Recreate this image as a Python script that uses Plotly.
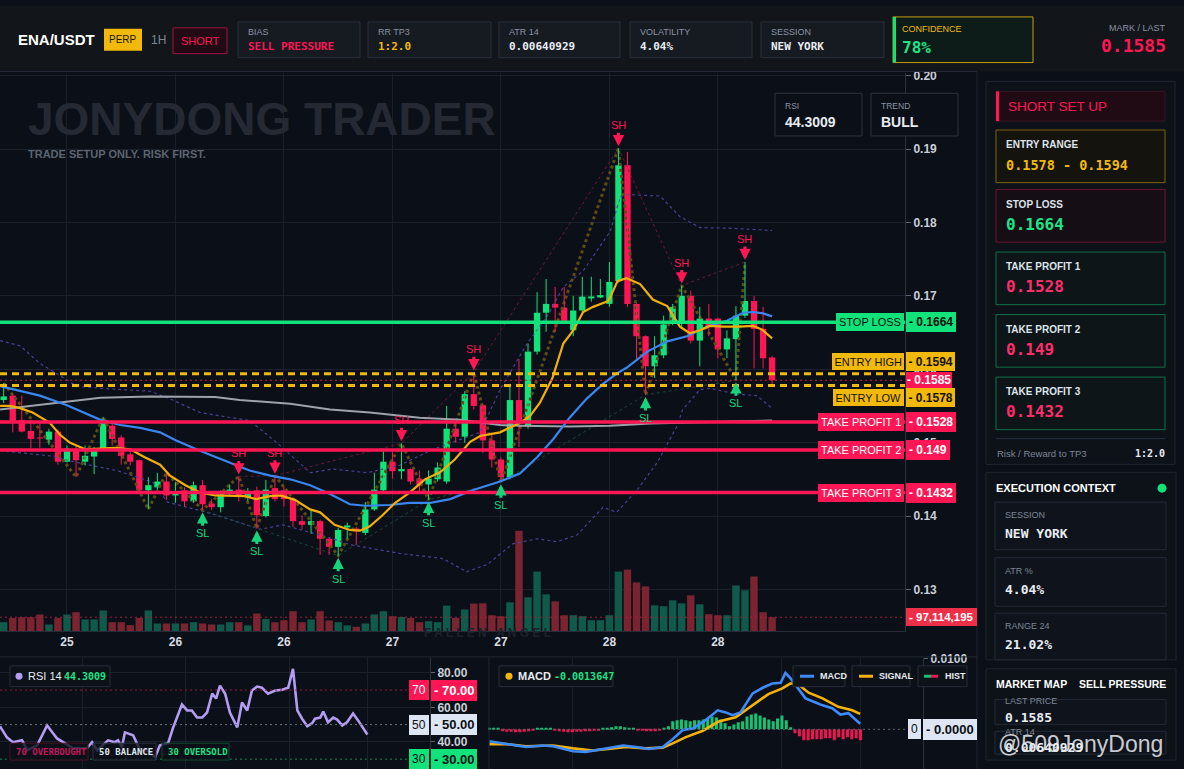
import plotly.graph_objects as go

W, H = 1184, 769

# ---- ENA/USDT 1H candles (index 0 = first visible bar) ----
opens = [0.1558, 0.1564, 0.1531, 0.1516, 0.1507, 0.1504, 0.1515, 0.1474, 0.1491, 0.1474,
         0.1481, 0.1491, 0.1523, 0.1507, 0.1484, 0.1476, 0.1435, 0.1439, 0.1447, 0.1428,
         0.1435, 0.1420, 0.1442, 0.1417, 0.1412, 0.1430, 0.1436, 0.1426, 0.1435, 0.1400,
         0.1438, 0.1435, 0.1423, 0.1393, 0.1388, 0.1393, 0.1369, 0.1358, 0.1385, 0.1383,
         0.1377, 0.1409, 0.1435, 0.1474, 0.1461, 0.1464, 0.1451, 0.1443, 0.1450, 0.1447,
         0.1519, 0.1508, 0.1566, 0.1551, 0.1503, 0.1477, 0.1453, 0.1558, 0.1523, 0.1624,
         0.1677, 0.1689, 0.1684, 0.1653, 0.1680, 0.1697, 0.1699, 0.1689, 0.1720, 0.1878,
         0.1689, 0.1645, 0.1604, 0.1619, 0.1666, 0.1665, 0.1700, 0.1639, 0.1669, 0.1669,
         0.1627, 0.1641, 0.1673, 0.1693, 0.1655, 0.1616]
highs = [0.1581, 0.1566, 0.1564, 0.1531, 0.1527, 0.1519, 0.1518, 0.1496, 0.1496, 0.1496,
         0.1494, 0.1535, 0.1528, 0.1510, 0.1491, 0.1477, 0.1453, 0.1459, 0.1459, 0.1446,
         0.1439, 0.1447, 0.1449, 0.1423, 0.1435, 0.1443, 0.1454, 0.1438, 0.1440, 0.1449,
         0.1455, 0.1440, 0.1426, 0.1401, 0.1408, 0.1395, 0.1370, 0.1384, 0.1391, 0.1385,
         0.1419, 0.1459, 0.1488, 0.1488, 0.1499, 0.1465, 0.1462, 0.1462, 0.1473, 0.1550,
         0.1527, 0.1570, 0.1596, 0.1553, 0.1514, 0.1480, 0.1577, 0.1614, 0.1635, 0.1705,
         0.1723, 0.1712, 0.1712, 0.1700, 0.1726, 0.1726, 0.1723, 0.1746, 0.1901, 0.1896,
         0.1690, 0.1646, 0.1645, 0.1673, 0.1689, 0.1714, 0.1707, 0.1685, 0.1689, 0.1670,
         0.1653, 0.1686, 0.1746, 0.1700, 0.1685, 0.1618]
lows = [0.1554, 0.1514, 0.1514, 0.1492, 0.1493, 0.1497, 0.1470, 0.1473, 0.1453, 0.1469,
        0.1457, 0.1489, 0.1496, 0.1470, 0.1469, 0.1433, 0.1409, 0.1436, 0.1422, 0.1418,
        0.1413, 0.1418, 0.1408, 0.1408, 0.1405, 0.1427, 0.1420, 0.1420, 0.1383, 0.1398,
        0.1420, 0.1413, 0.1385, 0.1382, 0.1376, 0.1347, 0.1347, 0.1346, 0.1369, 0.1361,
        0.1374, 0.1407, 0.1432, 0.1451, 0.1450, 0.1443, 0.1432, 0.1422, 0.1447, 0.1444,
        0.1500, 0.1500, 0.1545, 0.1486, 0.1466, 0.1446, 0.1450, 0.1494, 0.1519, 0.1620,
        0.1651, 0.1651, 0.1664, 0.1645, 0.1675, 0.1692, 0.1697, 0.1685, 0.1718, 0.1685,
        0.1612, 0.1565, 0.1588, 0.1615, 0.1660, 0.1655, 0.1635, 0.1604, 0.1645, 0.1615,
        0.1615, 0.1585, 0.1670, 0.1601, 0.1601, 0.1577]
closes = [0.1563, 0.1528, 0.1515, 0.1505, 0.1506, 0.1515, 0.1474, 0.1492, 0.1476, 0.1482,
          0.1491, 0.1528, 0.1505, 0.1482, 0.1474, 0.1435, 0.1442, 0.1447, 0.1428, 0.1432,
          0.1420, 0.1442, 0.1416, 0.1412, 0.1430, 0.1436, 0.1426, 0.1430, 0.1401, 0.1436,
          0.1423, 0.1423, 0.1393, 0.1388, 0.1393, 0.1369, 0.1358, 0.1381, 0.1387, 0.1379,
          0.1409, 0.1436, 0.1474, 0.1461, 0.1464, 0.1447, 0.1442, 0.1451, 0.1466, 0.1519,
          0.1508, 0.1566, 0.1550, 0.1503, 0.1477, 0.1453, 0.1558, 0.1527, 0.1624, 0.1677,
          0.1689, 0.1684, 0.1666, 0.1680, 0.1699, 0.1699, 0.1701, 0.1719, 0.1878, 0.1689,
          0.1645, 0.1604, 0.1619, 0.1661, 0.1685, 0.1700, 0.1639, 0.1669, 0.1658, 0.1627,
          0.1642, 0.1673, 0.1693, 0.1655, 0.1615, 0.1585]
# volume in millions
volume_m = [62, 92, 97, 97, 116, 46, 92, 116, 132, 81,
            81, 144, 62, 62, 42, 92, 144, 53, 53, 53,
            53, 62, 53, 46, 46, 62, 62, 40, 123, 85,
            62, 76, 139, 62, 81, 139, 74, 62, 40, 30,
            53, 116, 139, 104, 99, 92, 62, 69, 62, 178,
            92, 151, 192, 194, 111, 104, 201, 701, 236, 416,
            257, 208, 111, 111, 104, 76, 76, 111, 416, 430,
            340, 312, 180, 174, 215, 194, 250, 187, 118, 111,
            111, 319, 285, 382, 132, 97.114195]

day_tick_idx = [7, 19, 31, 43, 55, 67, 79]
day_tick_text = ["25", "26", "26", "27", "27", "28", "28"]
price_ticks = [0.13, 0.14, 0.15, 0.16, 0.17, 0.18, 0.19, 0.20]
sub_grid_idx = [19, 43, 67, 85]

# moving averages (bar index, price)
ema_fast_x = [-0.4, 0.7, 1.8, 3.2, 5.1, 6.2, 7.3, 9.0, 10.7, 12.3, 14.0, 15.6, 17.3, 18.4, 20.1,
              21.7, 23.4, 25.0, 26.7, 27.9, 29.5, 30.6, 32.2, 33.9, 35.0, 36.6, 38.3, 39.4, 40.5,
              41.9, 43.3, 44.9, 46.6, 48.3, 49.9, 51.6, 52.7, 54.9, 57.1, 58.2, 59.3, 60.7, 61.9,
              63.0, 64.1, 65.2, 66.9, 67.9, 68.9, 70.4, 71.8, 73.4, 74.8, 75.9, 77.0, 78.1, 79.6,
              81.4, 82.9, 83.9, 85.0]
ema_fast_y = [0.1550, 0.1550, 0.1547, 0.1541, 0.1527, 0.1511, 0.1500, 0.1491, 0.1492, 0.1493,
              0.1491, 0.1480, 0.1470, 0.1455, 0.1442, 0.1432, 0.1428, 0.1428, 0.1427, 0.1423,
              0.1427, 0.1428, 0.1422, 0.1409, 0.1405, 0.1388, 0.1381, 0.1380, 0.1386, 0.1401,
              0.1418, 0.1432, 0.1450, 0.1460, 0.1477, 0.1501, 0.1509, 0.1514, 0.1527, 0.1536,
              0.1554, 0.1588, 0.1635, 0.1653, 0.1678, 0.1685, 0.1693, 0.1720, 0.1724, 0.1716,
              0.1695, 0.1686, 0.1658, 0.1649, 0.1653, 0.1659, 0.1658, 0.1658, 0.1659, 0.1654,
              0.1642]
ema_mid_x = [-0.4, 1.8, 4.0, 7.0, 10.7, 12.9, 15.1, 17.3, 18.9, 21.7, 25.0, 27.2, 29.5, 31.7,
             33.9, 36.1, 38.3, 40.0, 42.7, 44.9, 47.2, 49.4, 51.6, 54.9, 57.1, 59.0, 60.8, 62.6,
             64.5, 66.3, 67.8, 68.9, 71.2, 73.4, 75.6, 77.8, 80.0, 81.8, 82.9, 84.0, 85.0]
ema_mid_y = [0.1577, 0.1570, 0.1564, 0.1551, 0.1531, 0.1524, 0.1520, 0.1514, 0.1504, 0.1489,
             0.1473, 0.1462, 0.1455, 0.1450, 0.1442, 0.1430, 0.1416, 0.1414, 0.1415, 0.1418,
             0.1418, 0.1423, 0.1434, 0.1447, 0.1458, 0.1480, 0.1505, 0.1534, 0.1560, 0.1580,
             0.1594, 0.1602, 0.1624, 0.1638, 0.1645, 0.1658, 0.1666, 0.1677, 0.1678, 0.1676,
             0.1672]
ema_slow_x = [-0.4, 3.2, 6.2, 10.7, 16.2, 23.4, 26.1, 31.7, 36.1, 40.5, 46.0, 50.5, 54.9, 57.1,
              62.6, 67.1, 71.5, 77.0, 85.0]
ema_slow_y = [0.1545, 0.1550, 0.1555, 0.1561, 0.1563, 0.1562, 0.1558, 0.1553, 0.1545, 0.1541,
              0.1534, 0.1531, 0.1524, 0.1523, 0.1522, 0.1523, 0.1526, 0.1528, 0.1530]
bb_up_x = [-0.4, 1.8, 4.0, 8.1, 10.7, 16.2, 18.7, 21.7, 27.2, 30.2, 33.9, 36.4, 40.2, 43.8, 47.5,
           52.7, 54.9, 57.9, 60.1, 61.9, 64.1, 67.1, 68.2, 68.9, 72.6, 74.8, 77.0, 80.7, 85.0]
bb_up_y = [0.1639, 0.1632, 0.1608, 0.1577, 0.1574, 0.1570, 0.1558, 0.1541, 0.1530, 0.1500,
           0.1459, 0.1464, 0.1459, 0.1469, 0.1491, 0.1514, 0.1572, 0.1635, 0.1672, 0.1712,
           0.1734, 0.1788, 0.1835, 0.1838, 0.1836, 0.1808, 0.1793, 0.1792, 0.1789]
bb_lo_x = [-0.4, 5.1, 8.1, 12.5, 16.5, 18.1, 22.5, 28.4, 30.9, 36.4, 38.3, 43.8, 48.6, 51.2, 53.5,
           56.3, 59.0, 61.2, 63.4, 66.3, 67.8, 70.1, 72.3, 74.5, 75.1, 77.0, 78.1, 81.1, 83.3, 85.0]
bb_lo_y = [0.1489, 0.1482, 0.1473, 0.1462, 0.1446, 0.1419, 0.1405, 0.1382, 0.1388, 0.1369,
           0.1361, 0.1349, 0.1342, 0.1324, 0.1334, 0.1362, 0.1369, 0.1365, 0.1374, 0.1412,
           0.1405, 0.1436, 0.1473, 0.1523, 0.1545, 0.1572, 0.1574, 0.1566, 0.1564, 0.1547]

# swing structure (bar indexes)
zigzag_idx = [0, 8, 11, 16, 18, 22, 26, 28, 30, 37, 44, 47, 52, 55, 68, 71, 75, 81, 82]
swing_high_idx = [26, 30, 44, 52, 68, 75, 82]
swing_low_idx = [22, 28, 37, 47, 55, 71, 81]

# trade plan
stop_loss = 0.1664
entry_high = 0.1594
entry_low = 0.1578
last_price = 0.1585
take_profits = [0.1528, 0.149, 0.1432]

# RSI 14 (bar index, value)
rsi_x = [0, 1.6, 3.0, 5.1, 6.3, 8.6, 10.9, 13.2, 14.6, 16.9, 20.1, 21.3, 22.5, 25.0, 26.6, 27.3,
         28.2, 28.9, 30.8, 32.4, 34.0, 35.9, 37.0, 38.9, 40.0, 42.1, 43.3, 44.4, 45.6, 46.8, 47.9,
         49.1, 50.0, 50.9, 52.1, 53.2, 54.9, 56.0, 57.2, 58.3, 59.5, 60.6, 62.0, 63.7, 65.3, 66.7,
         67.8, 68.8, 69.9, 71.1, 72.2, 72.9, 74.1, 74.8, 75.9, 77.1, 78.0, 79.2, 80.3, 81.7, 82.9,
         85.0]
rsi_y = [49.0, 42.6, 39.8, 40.9, 35.2, 38.0, 49.5, 42.0, 39.8, 36.3, 36.3, 39.8, 35.2, 40.9, 39.8,
         40.9, 36.9, 45.5, 43.8, 35.2, 35.2, 31.2, 38.0, 39.2, 47.8, 61.6, 58.2, 58.2, 54.1, 54.1,
         57.0, 67.9, 65.1, 72.5, 67.9, 57.0, 48.4, 62.8, 58.2, 69.7, 72.0, 71.4, 67.9, 69.7, 70.2,
         71.4, 82.3, 58.2, 53.4, 49.0, 50.7, 53.4, 54.1, 57.6, 51.3, 54.1, 52.9, 49.5, 51.3, 56.4,
         52.3, 44.3]

# MACD (bar index, value)
macd_x = [0, 3.9, 8.4, 12.3, 14.6, 19.2, 22.1, 26.0, 30.6, 33.6, 36.5, 39.7, 41.6, 44.3, 46.6,
          49.5, 52.3, 54.1, 55.7, 57.5, 60.3, 62.6, 64.8, 66.7, 67.8, 68.9, 70.5, 72.4, 74.7, 76.3,
          78.5, 80.4, 82.2, 84.9]
macd_y = [-0.0017, -0.0021, -0.0025, -0.0023, -0.0024, -0.0031, -0.0032, -0.0028, -0.0023, -0.0025,
          -0.0028, -0.0025, -0.0016, -0.0001, 0.0001, 0.0013, 0.0027, 0.0024, 0.0020, 0.0024,
          0.0051, 0.0059, 0.0065, 0.0066, 0.0080, 0.0073, 0.0059, 0.0044, 0.0038, 0.0034,
          0.0030, 0.0021, 0.0023, 0.0008]
signal_x = [0, 3.9, 8.4, 14.6, 19.2, 23.7, 28.3, 31.3, 35.8, 39.7, 42.0, 45.0, 48.9, 52.5, 56.4,
            60.3, 63.9, 67.1, 68.9, 70.5, 73.1, 76.3, 79.9, 83.1, 84.9]
signal_y = [-0.0021, -0.0021, -0.0024, -0.0023, -0.0027, -0.0030, -0.0027, -0.0025, -0.0027, -0.0026,
            -0.0020, -0.0011, -0.0002, 0.0011, 0.0017, 0.0034, 0.0050, 0.0058, 0.0065, 0.0065,
            0.0052, 0.0044, 0.0032, 0.0027, 0.0022]
macd_hist = [0.00021, 0.00014, 0.00014, -0.00028, -0.00035, -0.00035, -0.00042, -0.00042, -0.00035, -0.00028,
             -0.00021, 0.00014, 0.00021, 0.00014, 0.00007, -0.00014, -0.00028, -0.00035, -0.00042, -0.00042,
             -0.00035, -0.00035, -0.00028, -0.00028, -0.00021, -0.00014, 0.00014, 0.00021, 0.00028, 0.00042,
             0.00042, 0.00028, 0.00021, 0.00014, -0.00014, -0.00021, -0.00028, -0.00028, -0.00028, -0.00021,
             0.00014, 0.00042, 0.00113, 0.00127, 0.00141, 0.00127, 0.00113, 0.00127, 0.00127, 0.00141,
             0.00155, 0.00183, 0.00169, 0.00141, 0.00085, 0.00042, 0.00070, 0.00099, 0.00113, 0.00183,
             0.00211, 0.00225, 0.00197, 0.00169, 0.00141, 0.00113, 0.00155, 0.00197, 0.00127, 0.00028,
             -0.00056, -0.00099, -0.00155, -0.00155, -0.00141, -0.00141, -0.00141, -0.00127, -0.00127, -0.00155,
             -0.00113, -0.00141, -0.00113, -0.00141, -0.00127, -0.00155]

# header / panel readouts
bias = "SELL PRESSURE"
rr_tp3 = "1:2.0"
atr14 = "0.00640929"
volatility = "4.04%"
session = "NEW YORK"
confidence = "78%"
rsi_last = "44.3009"
macd_last = "-0.0013647"
range24 = "21.02%"
trend = "BULL"

BG = "#0b0f17"
GRID = "#1b212c"
GREEN = "#12e27a"
RED = "#ff1654"
YELLOW = "#f0b90b"
TXT = "#c9ced8"
DIM = "#8a92a2"
WHITE = "#e8ecf2"
SANS = "Liberation Sans, Arial, sans-serif"
MONO = "DejaVu Sans Mono, monospace"

n = len(closes)
idx = list(range(n))
up = [c >= o for o, c in zip(opens, closes)]

fig = go.Figure()


def P(x):
    return x / W


def Q(y):
    return 1 - y / H


def box(x0, y0, x1, y1, fill, edge=None, lw=1):
    fig.add_shape(type="rect", xref="paper", yref="paper", x0=P(x0), x1=P(x1), y0=Q(y1), y1=Q(y0),
                  fillcolor=fill, line=dict(color=edge or fill, width=lw if edge else 0))


def seg(x0, y0, x1, y1, color, lw=1, dash=None):
    fig.add_shape(type="line", xref="paper", yref="paper", x0=P(x0), x1=P(x1), y0=Q(y0), y1=Q(y1),
                  line=dict(color=color, width=lw, dash=dash))


def dot(x, y, r, color):
    fig.add_shape(type="circle", xref="paper", yref="paper", x0=P(x - r), x1=P(x + r),
                  y0=Q(y + r), y1=Q(y - r), fillcolor=color, line=dict(width=0))


def label(x, y, s, size, color, family=SANS, anchor="left", bold=False):
    fig.add_annotation(xref="paper", yref="paper", x=P(x), y=Q(y), text=s, showarrow=False,
                       xanchor=anchor, yanchor="middle", borderpad=0,
                       font=dict(size=size, color=color, family=family,
                                 weight="bold" if bold else "normal"))


def tag(yref, yval, split, left, right, bg, fg, size=11, yshift=0, pad=3):
    if left:
        fig.add_annotation(xref="paper", yref=yref, x=P(split - 1.5), y=yval, text=left,
                           showarrow=False, xanchor="right", yanchor="middle", yshift=yshift,
                           bgcolor=bg, borderpad=pad, borderwidth=0,
                           font=dict(size=size, color=fg, family=SANS))
    fig.add_annotation(xref="paper", yref=yref, x=P(split + 0.5), y=yval, text="- " + right,
                       showarrow=False, xanchor="left", yanchor="middle", yshift=yshift,
                       bgcolor=bg, borderpad=pad, borderwidth=0,
                       font=dict(size=size + 1, color=fg, family=SANS, weight="bold"))


# ---------------- main price pane ----------------
fig.add_trace(go.Bar(x=idx, y=volume_m, width=0.82, xaxis="x", yaxis="y",
                     marker=dict(color=["#0f5a4b" if u else "#7b2431" for u in up], line=dict(width=0))))

for bx, by in ((bb_up_x, bb_up_y), (bb_lo_x, bb_lo_y)):
    fig.add_trace(go.Scatter(x=bx, y=by, mode="lines", xaxis="x", yaxis="y2",
                             line=dict(color="#4c3f96", width=1.2, dash="dot")))

zz_price = [highs[i] if k % 2 == 0 else lows[i] for k, i in enumerate(zigzag_idx)]
fig.add_trace(go.Scatter(x=zigzag_idx, y=zz_price, mode="lines", xaxis="x", yaxis="y2",
                         line=dict(color="#5e4c17", width=3, dash="dot")))
fig.add_trace(go.Scatter(x=swing_high_idx, y=[highs[i] for i in swing_high_idx], mode="lines",
                         xaxis="x", yaxis="y2", line=dict(color="#6e1a3a", width=1, dash="dot")))
fig.add_trace(go.Scatter(x=swing_low_idx, y=[lows[i] for i in swing_low_idx], mode="lines",
                         xaxis="x", yaxis="y2", line=dict(color="#1c4a36", width=1, dash="dot")))

# candles: wicks then bodies
for want, col in ((True, GREEN), (False, RED)):
    wx, wy = [], []
    for i in idx:
        if up[i] == want:
            wx += [i, i, None]
            wy += [lows[i], highs[i], None]
    fig.add_trace(go.Scatter(x=wx, y=wy, mode="lines", xaxis="x", yaxis="y2",
                             line=dict(color=col, width=1)))
fig.add_trace(go.Bar(x=idx, base=[min(o, c) for o, c in zip(opens, closes)],
                     y=[max(abs(c - o), 0.00008) for o, c in zip(opens, closes)],
                     width=0.7, xaxis="x", yaxis="y2",
                     marker=dict(color=[GREEN if u else RED for u in up], line=dict(width=0))))

fig.add_trace(go.Scatter(x=ema_slow_x, y=ema_slow_y, mode="lines", xaxis="x", yaxis="y2",
                         line=dict(color="#9ea3ab", width=2)))
fig.add_trace(go.Scatter(x=ema_mid_x, y=ema_mid_y, mode="lines", xaxis="x", yaxis="y2",
                         line=dict(color="#3a86f0", width=2.2)))
fig.add_trace(go.Scatter(x=ema_fast_x, y=ema_fast_y, mode="lines", xaxis="x", yaxis="y2",
                         line=dict(color="#f2ae0b", width=2.2)))

# level lines
fig.add_shape(type="line", xref="x domain", yref="y2", x0=0, x1=1, y0=stop_loss, y1=stop_loss,
              line=dict(color=GREEN, width=3.5))
for lv in take_profits:
    fig.add_shape(type="line", xref="x domain", yref="y2", x0=0, x1=1, y0=lv, y1=lv,
                  line=dict(color=RED, width=3.5))
for lv in (entry_high, entry_low):
    fig.add_shape(type="line", xref="x domain", yref="y2", x0=0, x1=1, y0=lv, y1=lv,
                  line=dict(color=YELLOW, width=3, dash="7px,5px"))
fig.add_shape(type="line", xref="x domain", yref="y2", x0=0, x1=1, y0=last_price, y1=last_price,
              line=dict(color="#d0184c", width=1, dash="2px,3px"))
fig.add_shape(type="line", xref="x domain", yref="y", x0=0, x1=1, y0=volume_m[-1], y1=volume_m[-1],
              line=dict(color="#a02338", width=1, dash="2px,3px"))

# swing markers
for i in swing_high_idx:
    fig.add_annotation(x=i, y=highs[i], xref="x", yref="y2", text="SH", showarrow=True,
                       arrowhead=2, arrowsize=0.75, arrowwidth=3, arrowcolor=RED, ax=0, ay=-23,
                       standoff=2, font=dict(size=11, color=RED, family=SANS))
for i in swing_low_idx:
    fig.add_annotation(x=i, y=lows[i], xref="x", yref="y2", text="SL", showarrow=True,
                       arrowhead=2, arrowsize=0.75, arrowwidth=3, arrowcolor="#17d47c", ax=0, ay=23,
                       standoff=2, font=dict(size=11, color="#17d47c", family=SANS))

# price tags on the right axis
tag("y2", stop_loss, 905, "STOP LOSS", str(stop_loss), GREEN, "#08110c")
tag("y2", entry_high, 905, "ENTRY HIGH", str(entry_high), YELLOW, "#151105", yshift=12, pad=2.5)
tag("y2", last_price, 905, None, str(last_price), RED, "#ffffff", pad=1)
tag("y2", entry_low, 905, "ENTRY LOW", str(entry_low), YELLOW, "#151105", yshift=-12.5, pad=2.5)
for k, lv in enumerate(take_profits):
    tag("y2", lv, 905, "TAKE PROFIT %d" % (k + 1), str(lv), RED, "#ffffff")
tag("y", volume_m[-1], 905, None, "{:,}".format(round(volume_m[-1] * 1e6)), "#ee2f48", "#ffffff",
    size=10.5)

# ---------------- RSI pane ----------------
fig.add_trace(go.Scatter(x=rsi_x, y=rsi_y, mode="lines", xaxis="x3", yaxis="y3",
                         line=dict(color="#b39cf2", width=2.6)))
for lv, col in ((70, "#a3173f"), (50, "#6b7280"), (30, "#138a55")):
    fig.add_shape(type="line", xref="x3 domain", yref="y3", x0=0, x1=1, y0=lv, y1=lv,
                  line=dict(color=col, width=1, dash="2px,3px"))
tag("y3", 70, 430, "70", "70.00", RED, "#ffffff", size=12)
tag("y3", 50, 430, "50", "50.00", "#dfe6f3", "#0b0f17", size=12)
tag("y3", 30, 430, "30", "30.00", GREEN, "#0b0f17", size=12)

# ---------------- MACD pane ----------------
fig.add_trace(go.Bar(x=idx, y=macd_hist, width=0.7, xaxis="x4", yaxis="y4",
                     marker=dict(color=["#16c172" if v >= 0 else "#ec1651" for v in macd_hist],
                                 line=dict(width=0))))
fig.add_trace(go.Scatter(x=signal_x, y=signal_y, mode="lines", xaxis="x4", yaxis="y4",
                         line=dict(color="#f5b20b", width=2.6)))
fig.add_trace(go.Scatter(x=macd_x, y=macd_y, mode="lines", xaxis="x4", yaxis="y4",
                         line=dict(color="#3d8bfd", width=2.6)))
fig.add_shape(type="line", xref="x4 domain", yref="y4", x0=0, x1=1, y0=0, y1=0,
              line=dict(color="#5d6470", width=1, dash="2px,3px"))
tag("y4", 0, 922, "0", "0.0000", "#dfe6f3", "#0b0f17", size=12)

axis_font = dict(size=12, color=TXT, family=SANS, weight="bold")
fig.update_layout(
    width=W, height=H, margin=dict(l=0, r=0, t=0, b=0),
    paper_bgcolor=BG, plot_bgcolor="rgba(0,0,0,0)", showlegend=False, hovermode=False,
    xaxis=dict(domain=[0, 905 / W], range=[-0.41, 99.7], anchor="y", tickvals=day_tick_idx,
               ticktext=day_tick_text, showgrid=True, gridcolor=GRID, zeroline=False,
               showline=True, linecolor="#252c38", ticks="",
               tickfont=dict(size=12, color="#d8dce3", family=SANS, weight="bold")),
    yaxis=dict(domain=[1 - 630 / H, 1 - 68 / H], range=[0, 3898], visible=False),
    yaxis2=dict(overlaying="y", anchor="x", side="right", range=[0.12432, 0.2003],
                tickvals=price_ticks, tickformat=".2f", showgrid=True, gridcolor=GRID,
                zeroline=False, showline=True, linecolor="#2a3140", ticks="outside", ticklen=5,
                tickcolor="#5f6673", tickfont=axis_font),
    xaxis3=dict(domain=[0, 430 / W], range=[0, 99.5], anchor="y3", tickvals=sub_grid_idx,
                showticklabels=False, showgrid=True, gridcolor=GRID, zeroline=False, ticks=""),
    yaxis3=dict(domain=[0, 1 - 656 / H], range=[24.3, 89.2], anchor="x3", side="right",
                tickvals=[40, 60, 80], tickformat=".2f", showgrid=True, gridcolor=GRID,
                zeroline=False, showline=True, linecolor="#2a3140", ticks="outside", ticklen=4,
                tickcolor="#5f6673", tickfont=axis_font),
    xaxis4=dict(domain=[488 / W, 923 / W], range=[-0.3, 99.3], anchor="y4", tickvals=sub_grid_idx,
                showticklabels=False, showgrid=True, gridcolor=GRID, zeroline=False, ticks=""),
    yaxis4=dict(domain=[0, 1 - 657 / H], range=[-0.00563, 0.01014], anchor="x4", side="right",
                tickvals=[0.01], tickformat=".4f", showgrid=False, zeroline=False, showline=True,
                linecolor="#2a3140", ticks="outside", ticklen=4, tickcolor="#5f6673",
                tickfont=axis_font),
)

# ---------------- chart decorations ----------------
label(27, 114, "JONYDONG TRADER", 46, "#242934", SANS, bold=True)
label(27, 149, "TRADE SETUP ONLY. RISK FIRST.", 11, "#5d6470", SANS, bold=True)
label(487, 632, "F A L L E N   A N G E L", 12, "#1c222d", SANS, anchor="center", bold=True)

for x0, cap, val in ((775, "RSI", rsi_last), (871, "TREND", trend)):
    box(x0, 88, x0 + 87, 131, BG, "#2c3340")
    label(x0 + 9, 101, cap, 8.5, DIM)
    label(x0 + 9, 117, val, 14, WHITE, SANS, bold=True)

# separators
seg(0, 656, 977, 656, "#212834")
seg(977, 66, 977, 769, "#1f2631")
seg(489, 656, 489, 769, "#212834")

# RSI legends
box(10, 665, 110, 686, "#0d1219", "#262d39")
dot(19, 675.5, 3.5, "#b39cf2")
label(27, 675.5, "RSI 14", 11, WHITE, SANS)
label(63, 675.5, rsi_last, 10, "#1de586", MONO, bold=True)
for x0, x1, s, col, edge in ((10, 88, "70 OVERBOUGHT", "#c2185b", "#4a1025"),
                              (93, 156, "50 BALANCE", "#dfe3ea", "#2c3340"),
                              (162, 229, "30 OVERSOLD", "#1de586", "#0f4a30")):
    box(x0, 743, x1, 760, "rgba(11,15,23,0.78)", edge)
    label(x0 + 5, 751.5, s, 9, col, MONO, bold=True)

# MACD legends
box(499, 665, 613, 686, "#0d1219", "#262d39")
dot(509, 675.5, 3.5, YELLOW)
label(517, 675.5, "MACD", 11, WHITE, SANS, bold=True)
label(553, 675.5, macd_last, 10, "#1de586", MONO, bold=True)
for x0, x1, s, col in ((793, 845, "MACD", "#3d8bfd"), (852, 910, "SIGNAL", "#f5b20b"),
                       (918, 967, "HIST", None)):
    box(x0, 665, x1, 686, "#0d1219", "#262d39")
    if col:
        seg(x0 + 7, 675.5, x0 + 21, 675.5, col, 3)
    else:
        seg(x0 + 6, 675.5, x0 + 13, 675.5, "#16c172", 3)
        seg(x0 + 13, 675.5, x0 + 20, 675.5, "#ec1651", 3)
    label(x0 + 26, 675.5, s, 9, WHITE, SANS, bold=True)

# ---------------- header ----------------
box(0, 0, W, 66, "#121519")
seg(0, 66, 977, 66, "#232a35")
label(17, 34, "ENA/USDT", 15, "#ffffff", SANS, bold=True)
box(104, 23, 142, 45, YELLOW)
label(123, 34, "PERP", 10, "#1a1a1a", SANS, anchor="center")
label(150, 34, "1H", 12, "#7d8594", SANS)
box(173, 22, 227, 48, "#220b14", "#9c1440")
label(200, 35, "SHORT", 11, RED, SANS, anchor="center")
for x0, x1, cap, val, col in ((238, 360, "BIAS", bias, RED), (368, 491, "RR TP3", rr_tp3, YELLOW),
                              (499, 620, "ATR 14", atr14, WHITE), (630, 752, "VOLATILITY", volatility, WHITE),
                              (761, 884, "SESSION", session, WHITE)):
    box(x0, 16, x1, 52, "#161a21", "#2a303b")
    label(x0 + 9, 26, cap, 9, DIM)
    label(x0 + 9, 41, val, 11, col, MONO, bold=True)
box(893, 11, 1033, 57, "#0e1c19", "#c49c0c")
box(893, 11, 896, 57, GREEN)
label(901, 23, "CONFIDENCE", 9, YELLOW)
label(901, 42, confidence, 16, "#1de586", MONO, bold=True)
label(1167, 22, "MARK / LAST", 9, DIM, anchor="right")
label(1167, 40, str(last_price), 18, RED, MONO, anchor="right", bold=True)

# ---------------- right column ----------------
box(986, 76, 1175, 462, "#0d1219", "#1f2631")
box(996, 86, 1165, 116, "#200b14", "#3a1424")
box(996, 86, 999, 116, RED)
label(1007, 101, "SHORT SET UP", 13.5, RED, SANS)
cards = [("ENTRY RANGE", "%s - %s" % (entry_low, entry_high), 125, "#7d6210", "#14130e", YELLOW, 13.5),
         ("STOP LOSS", str(stop_loss), 185, "#6e1530", "#150e15", "#1de586", 16)]
for k, lv in enumerate(take_profits):
    cards.append(("TAKE PROFIT %d" % (k + 1), str(lv), 248 + 63 * k, "#11704a", "#0d1519", "#ff2d6a", 16))
for cap, val, y0, edge, fill, col, sz in cards:
    box(996, y0, 1165, y0 + 53, fill, edge)
    label(1005, y0 + 15, cap, 10, "#dfe3ea", SANS, bold=True)
    label(1005, y0 + 35, val, sz, col, MONO, bold=True)
seg(996, 436, 1165, 436, "#283040")
label(996, 451, "Risk / Reward to TP3", 9.5, "#7d8594")
label(1166, 451, rr_tp3, 10, WHITE, MONO, anchor="right", bold=True)

box(986, 470, 1176, 659, "#0d1219", "#1f2631")
label(995, 486, "EXECUTION CONTEXT", 11, "#ffffff", SANS, bold=True)
dot(1162, 486, 4.5, GREEN)
for cap, val, y0, y1 in (("SESSION", session, 500, 548), ("ATR %", volatility, 556, 605),
                         ("RANGE 24", range24, 612, 659)):
    box(995, y0, 1166, y1, "#0f141c", "#232a36")
    label(1004, y0 + 13, cap, 9, "#7d8594")
    label(1004, y0 + 32, val, 13, WHITE, MONO, bold=True)

box(986, 668, 1176, 760, "#0d1219", "#1f2631")
label(995, 683, "MARKET MAP", 10.5, "#ffffff", SANS, bold=True)
label(1167, 683, bias, 10.5, "#ffffff", SANS, anchor="right", bold=True)
box(995, 699, 1166, 724, "#0f141c", "#232a36")
label(1004, 700, "LAST PRICE", 9, "#7d8594")
label(1004, 717, str(last_price), 13, WHITE, MONO, bold=True)
box(995, 731, 1166, 754, "#0f141c", "#232a36")
label(1004, 732, "ATR 14", 9, "#7d8594")
label(1004, 747, atr14, 13, WHITE, MONO, bold=True)
label(1080, 744, "@509JonyDong", 23, "rgba(236,238,242,0.85)", SANS, anchor="center")

fig.write_html("out.html", config={"displayModeBar": False},
               post_script="document.body.style.margin='0';document.body.style.overflow='hidden';")
